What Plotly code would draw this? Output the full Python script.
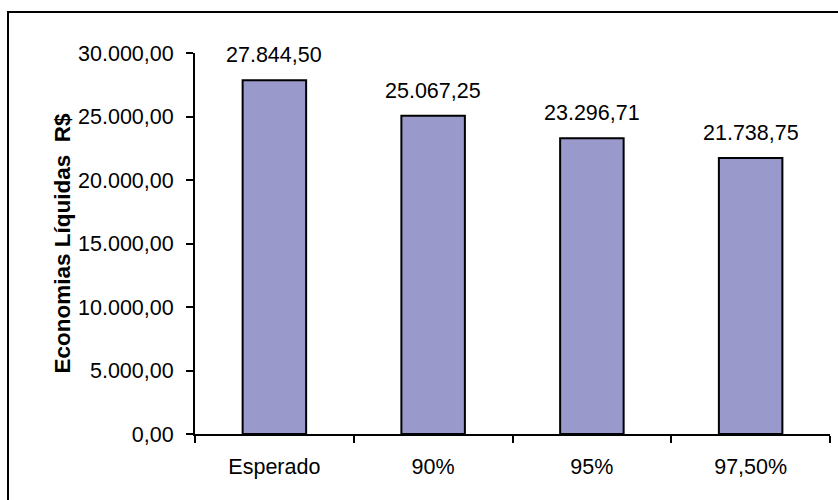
import plotly.graph_objects as go

categories = ["Esperado", "90%", "95%", "97,50%"]
values = [27844.50, 25067.25, 23296.71, 21738.75]
y_tick_vals = [0, 5000, 10000, 15000, 20000, 25000, 30000]
y_title = "Economias Líquidas  R$"

def fmt_br(v):
    s = f"{v:,.2f}"
    return s.replace(",", "X").replace(".", ",").replace("X", ".")

W, H = 838, 500
ml, mr, mt, mb = 195, 8, 53, 66
pw, ph = W - ml - mr, H - mt - mb
FS = 21.5

fig = go.Figure()
fig.add_trace(go.Bar(
    x=categories, y=values, width=0.4,
    marker=dict(color="#9999CC", line=dict(color="black", width=2)),
    hoverinfo="skip",
))

for c, v in zip(categories, values):
    fig.add_annotation(x=c, y=v, text=fmt_br(v), showarrow=False,
                       yanchor="bottom", yshift=11,
                       font=dict(family="Liberation Sans, Arial", size=FS, color="black"))

# outer chart border (extends beyond the visible page on right/bottom)
fig.add_shape(type="rect", xref="paper", yref="paper",
              x0=(8 - ml) / pw, x1=(W + 20 - ml) / pw,
              y0=-(H + 20 - mt - ph) / ph, y1=1 + (mt - 12) / ph,
              line=dict(color="black", width=2), fillcolor="rgba(0,0,0,0)", layer="below")

fig.add_annotation(x=(62 - ml) / pw, y=0.5, xref="paper", yref="paper",
                   text=f"<b>{y_title}</b>", textangle=-90, showarrow=False,
                   xanchor="center", yanchor="middle",
                   font=dict(family="Liberation Sans, Arial", size=22.5, color="black"))

fig.update_layout(
    width=W, height=H,
    margin=dict(l=ml, r=mr, t=mt, b=mb),
    paper_bgcolor="white", plot_bgcolor="white",
    showlegend=False,
    separators=",.",
    font=dict(family="Liberation Sans, Arial", size=FS, color="black"),
    xaxis=dict(
        type="category", range=[-0.5, 3.5],
        showline=True, linecolor="black", linewidth=2,
        ticks="outside", tickson="boundaries", ticklen=7, tickwidth=2, tickcolor="black",
        showgrid=False, zeroline=False,
        tickfont=dict(size=FS), ticklabelstandoff=12,
    ),
    yaxis=dict(
        range=[0, 30000], tickvals=y_tick_vals, tickformat=",.2f",
        showline=True, linecolor="black", linewidth=2,
        ticks="outside", ticklen=7, tickwidth=2, tickcolor="black",
        showgrid=False, zeroline=False,
        tickfont=dict(size=FS), ticklabelstandoff=8,
    ),
)

fig.write_html("out.html")
